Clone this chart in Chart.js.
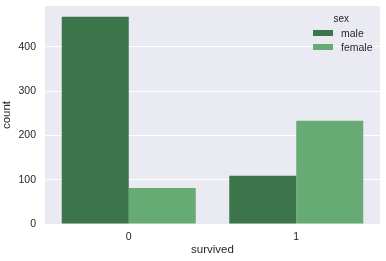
<!DOCTYPE html>
<html>
<head>
<meta charset="utf-8">
<script src="https://cdn.jsdelivr.net/npm/chart.js@4"></script>
<style>
  html, body { margin: 0; padding: 0; background: #fff; }
  #wrap { position: relative; width: 386px; height: 261px; font-family: "Liberation Sans", Arial, sans-serif; color: #262626; }
  #legend { position: absolute; left: 308px; top: 13px; font-size: 10.5px; }
  #legend .title { text-align: center; font-size: 10px; margin-bottom: 2px; padding-left: 2px; }
  #legend .row { display: flex; align-items: center; height: 14px; }
  #legend .sw { width: 20px; height: 6px; margin: 0 8px 0 5px; }
</style>
</head>
<body>
<div id="wrap">
  <canvas id="chart" width="386" height="261"></canvas>
  <div id="legend"></div>
</div>
<script>
const categories = ['0', '1'];
const seriesNames = ['male', 'female'];
const maleCounts = [468, 109];
const femaleCounts = [81, 233];
const yTicks = [0, 100, 200, 300, 400];
const colors = ['#3c754a', '#67ab74'];

// grey background behind the plot area
const plotBackground = {
    id: 'plotBackground',
    beforeDraw(chart) {
        const { ctx, chartArea } = chart;
        ctx.save();
        ctx.fillStyle = '#eaeaf2';
        ctx.fillRect(chartArea.left, chartArea.top, chartArea.right - chartArea.left, chartArea.bottom - chartArea.top);
        ctx.restore();
    }
};

const font = 'Liberation Sans';
const ctx = document.getElementById('chart').getContext('2d');
const chart = new Chart(ctx, {
    type: 'bar',
    data: {
        labels: categories,
        datasets: [
            { label: seriesNames[0], data: maleCounts, backgroundColor: colors[0] },
            { label: seriesNames[1], data: femaleCounts, backgroundColor: colors[1] }
        ]
    },
    options: {
        responsive: false,
        animation: false,
        devicePixelRatio: 1,
        layout: { padding: { top: 6, right: 6, left: 0, bottom: 0 } },
        datasets: { bar: { categoryPercentage: 0.8, barPercentage: 1.0 } },
        plugins: {
            legend: { display: false },
            tooltip: { enabled: false }
        },
        scales: {
            x: {
                grid: { display: false, drawTicks: false },
                border: { display: false },
                ticks: { color: '#262626', font: { size: 10.5, family: font }, padding: 7 },
                title: { display: true, text: 'survived', color: '#262626', font: { size: 11.5, family: font }, padding: { top: 2, bottom: 4 } },
                afterFit(scale) { scale.height = 37; scale.paddingLeft = 0; scale.paddingRight = 0; }
            },
            y: {
                min: 0,
                max: 492,
                grid: { color: '#ffffff', lineWidth: 1, drawTicks: false },
                border: { display: false },
                afterBuildTicks(scale) { scale.ticks = yTicks.map(v => ({ value: v })); },
                ticks: { color: '#262626', font: { size: 10.5, family: font }, padding: 9 },
                title: { display: true, text: 'count', color: '#262626', font: { size: 11.5, family: font }, padding: { top: 0, bottom: 4 } },
                afterFit(scale) { scale.width = 45; scale.paddingTop = 0; scale.paddingBottom = 0; }
            }
        }
    },
    plugins: [plotBackground]
});

// legend drawn as html over the plot
const legendDiv = document.getElementById('legend');
legendDiv.innerHTML = '<div class="title">sex</div>' + seriesNames.map((name, i) =>
    `<div class="row"><span class="sw" style="background:${colors[i]}"></span><span>${name}</span></div>`
).join('');
</script>
</body>
</html>
